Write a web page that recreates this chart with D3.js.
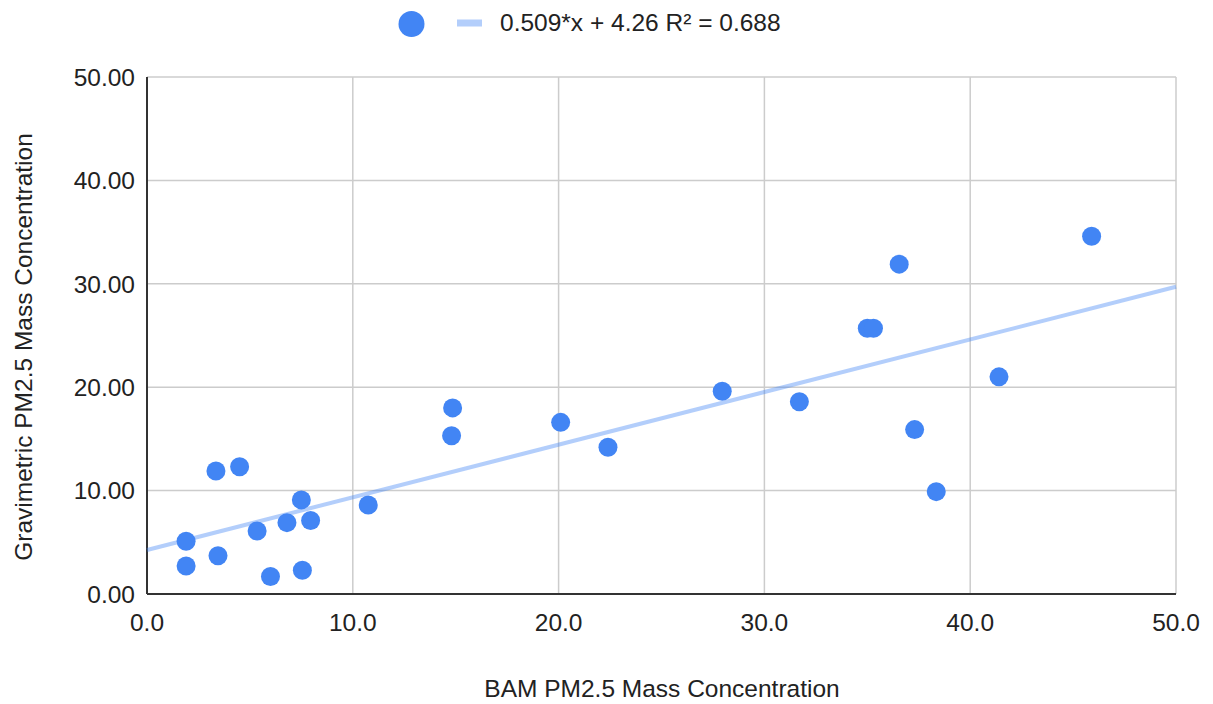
<!DOCTYPE html>
<html>
<head>
  <title>Gravimetric vs BAM PM2.5</title>
  <script src="https://d3js.org/d3.v7.min.js"></script>
  <style>
    body { margin: 0; background: #fff; }
    text { font-family: "Liberation Sans", Arial, sans-serif; fill: #222; }
  </style>
</head>
<body>

<div id="chart"></div>

<script>
// BAM (x) vs gravimetric (y) PM2.5
const bamValues = [1.9, 1.9, 3.35, 4.5, 3.45, 5.35, 6.0, 6.8, 7.5, 7.95, 7.55, 10.75,
  14.85, 14.8, 20.1, 22.4, 27.95, 31.7, 35.0, 35.3, 36.55, 37.3, 38.35, 41.4, 45.9];
const gravValues = [5.1, 2.7, 11.9, 12.3, 3.7, 6.1, 1.7, 6.9, 9.1, 7.1, 2.3, 8.6,
  18.0, 15.3, 16.6, 14.2, 19.6, 18.6, 25.7, 25.7, 31.9, 15.9, 9.9, 21.0, 34.6];

const xTicks = [0, 10, 20, 30, 40, 50];
const yTicks = [0, 10, 20, 30, 40, 50];

// trendline: slope, intercept, r2
const trend = [0.509, 4.26, 0.688];

const width = 1213;
const height = 704;
const margin = { top: 77, right: 37, bottom: 110, left: 147 };
const fontSize = "24.5px";

const svg = d3.select("#chart")
  .append("svg")
  .attr("width", width)
  .attr("height", height);

const x = d3.scaleLinear()
  .domain([0, 50])
  .range([margin.left, width - margin.right]);

const y = d3.scaleLinear()
  .domain([0, 50])
  .range([height - margin.bottom, margin.top]);

// gridlines
svg.append("g")
  .selectAll("line")
  .data(xTicks)
  .join("line")
  .attr("x1", d => x(d)).attr("x2", d => x(d))
  .attr("y1", y(0)).attr("y2", y(50))
  .attr("stroke", "#cccccc")
  .attr("stroke-width", 1.5);

svg.append("g")
  .selectAll("line")
  .data(yTicks)
  .join("line")
  .attr("x1", x(0)).attr("x2", x(50))
  .attr("y1", d => y(d)).attr("y2", d => y(d))
  .attr("stroke", "#cccccc")
  .attr("stroke-width", 1.5);

// axis lines
svg.append("line")
  .attr("x1", x(0)).attr("x2", x(0))
  .attr("y1", y(0)).attr("y2", y(50))
  .attr("stroke", "#333").attr("stroke-width", 2);
svg.append("line")
  .attr("x1", x(0)).attr("x2", x(50))
  .attr("y1", y(0)).attr("y2", y(0))
  .attr("stroke", "#333").attr("stroke-width", 2);

// tick labels
svg.append("g")
  .selectAll("text")
  .data(xTicks)
  .join("text")
  .attr("x", d => x(d))
  .attr("y", y(0) + 37)
  .attr("text-anchor", "middle")
  .style("font-size", fontSize)
  .text(d => d3.format(".1f")(d));

svg.append("g")
  .selectAll("text")
  .data(yTicks)
  .join("text")
  .attr("x", x(0) - 12)
  .attr("y", d => y(d))
  .attr("dy", "0.36em")
  .attr("text-anchor", "end")
  .style("font-size", fontSize)
  .text(d => d3.format(".2f")(d));

// trendline
const line = d3.line()
  .x(d => x(d))
  .y(d => y(trend[0] * d + trend[1]));

svg.append("path")
  .datum([0, 50])
  .attr("d", line)
  .attr("fill", "none")
  .attr("stroke", "#4285f4")
  .attr("stroke-opacity", 0.4)
  .attr("stroke-width", 4);

// points
svg.append("g")
  .selectAll("circle")
  .data(bamValues.map((v, i) => [v, gravValues[i]]))
  .join("circle")
  .attr("cx", d => x(d[0]))
  .attr("cy", d => y(d[1]))
  .attr("r", 9.5)
  .attr("fill", "#4285f4");

// axis titles
svg.append("text")
  .attr("x", 662)
  .attr("y", 697)
  .attr("text-anchor", "middle")
  .style("font-size", fontSize)
  .text("BAM PM2.5 Mass Concentration");

svg.append("text")
  .attr("transform", "translate(32,347) rotate(-90)")
  .attr("text-anchor", "middle")
  .style("font-size", fontSize)
  .text("Gravimetric PM2.5 Mass Concentration");

// legend
const legend = svg.append("g");
legend.append("circle")
  .attr("cx", 411.5).attr("cy", 24).attr("r", 13)
  .attr("fill", "#4285f4");
legend.append("line")
  .attr("x1", 457).attr("x2", 482)
  .attr("y1", 23).attr("y2", 23)
  .attr("stroke", "#4285f4")
  .attr("stroke-opacity", 0.4)
  .attr("stroke-width", 7);
legend.append("text")
  .attr("x", 500)
  .attr("y", 31)
  .style("font-size", fontSize)
  .text(`${trend[0]}*x + ${trend[1]} R² = ${trend[2]}`);
</script>

</body>
</html>
